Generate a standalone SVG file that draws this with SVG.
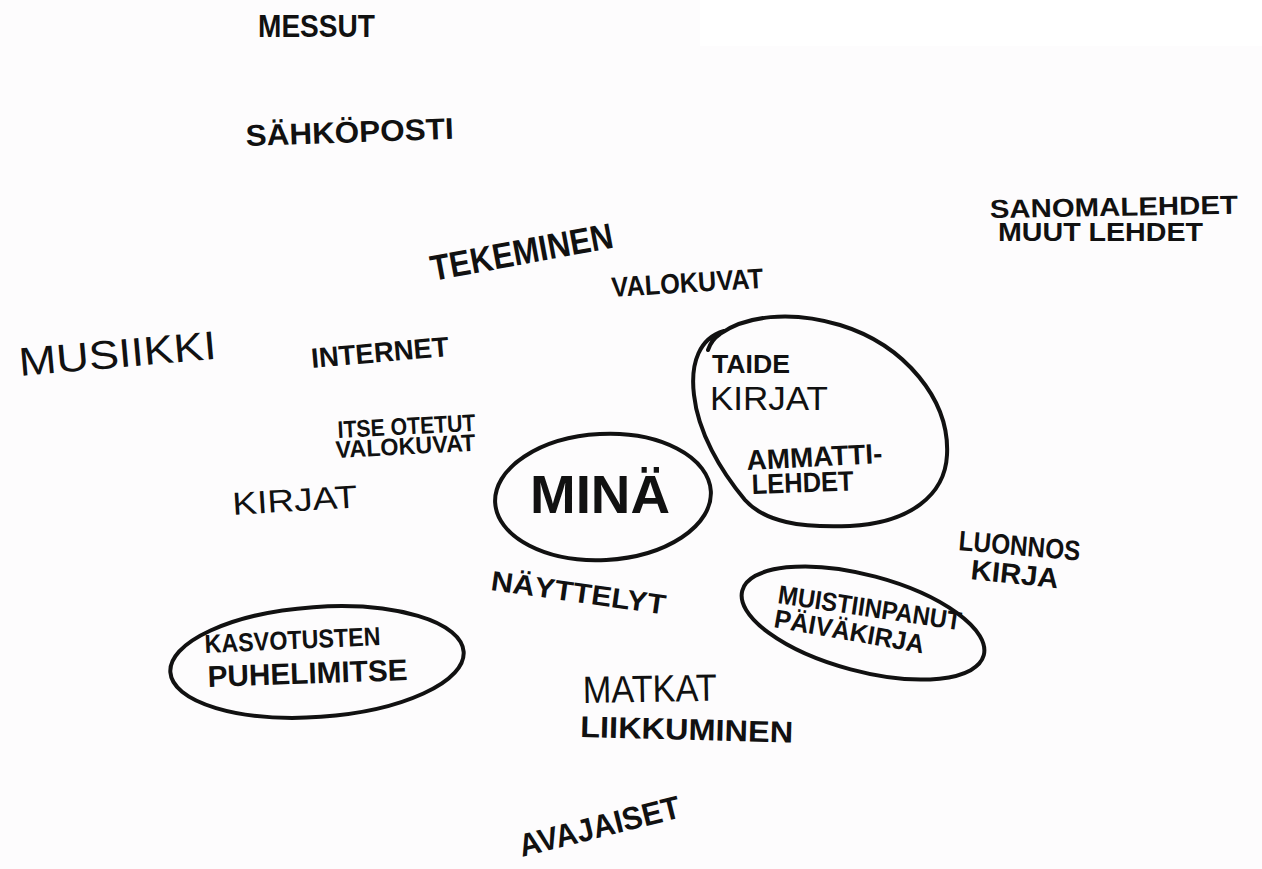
<svg xmlns="http://www.w3.org/2000/svg" width="1262" height="869" viewBox="0 0 1262 869">
<style>
text{font-family:"Liberation Sans","DejaVu Sans",sans-serif;font-weight:bold;fill:#111;}
.thin{font-weight:normal;}
.loop{fill:none;stroke:#111;stroke-width:4;stroke-linecap:round;stroke-linejoin:round;}
</style>
<rect x="0" y="0" width="1262" height="869" fill="#fdfcfd"/>
<rect x="700" y="0" width="562" height="46" fill="#ffffff"/>
<g id="connectors"/>
<g id="messut"><text x="258" y="37" font-size="32" textLength="117" lengthAdjust="spacingAndGlyphs">MESSUT</text></g>
<g id="sahkoposti"><text x="246" y="146" font-size="30" textLength="208" lengthAdjust="spacingAndGlyphs" transform="rotate(-2 246 146)">SÄHKÖPOSTI</text></g>
<g id="tekeminen"><text x="433" y="281" font-size="36" textLength="185" lengthAdjust="spacingAndGlyphs" transform="rotate(-10.5 433 281)">TEKEMINEN</text></g>
<g id="valokuvat"><text x="612" y="297" font-size="28" textLength="152" lengthAdjust="spacingAndGlyphs" transform="rotate(-3.5 612 297)">VALOKUVAT</text></g>
<g id="lehdet">
<text x="990" y="218" font-size="26" textLength="248" lengthAdjust="spacingAndGlyphs" transform="rotate(-1 990 218)">SANOMALEHDET</text>
<text x="998" y="241" font-size="26" textLength="205" lengthAdjust="spacingAndGlyphs">MUUT LEHDET</text>
</g>
<g id="musiikki"><text class="thin" x="20" y="376" font-size="40" textLength="198" lengthAdjust="spacingAndGlyphs" transform="rotate(-5 20 376)">MUSIIKKI</text></g>
<g id="internet"><text x="312" y="368" font-size="28" textLength="138" lengthAdjust="spacingAndGlyphs" transform="rotate(-5 312 368)">INTERNET</text></g>
<g id="itseotetut">
<text x="338" y="438" font-size="24" textLength="138" lengthAdjust="spacingAndGlyphs" transform="rotate(-3 338 438)">ITSE OTETUT</text>
<text x="336" y="458" font-size="24" textLength="140" lengthAdjust="spacingAndGlyphs" transform="rotate(-3 336 458)">VALOKUVAT</text>
</g>
<g id="kirjat"><text class="thin" x="233" y="515" font-size="32" textLength="125" lengthAdjust="spacingAndGlyphs" transform="rotate(-3.5 233 515)">KIRJAT</text></g>
<g id="mina">
<ellipse class="loop" cx="603" cy="497" rx="108" ry="63" transform="rotate(-3 603 497)"/>
<text x="530" y="513" font-size="54" textLength="140" lengthAdjust="spacingAndGlyphs">MINÄ</text>
</g>
<g id="nayttelyt"><text x="490" y="590" font-size="28" textLength="176" lengthAdjust="spacingAndGlyphs" transform="rotate(8 490 590)">NÄYTTELYT</text></g>
<g id="taide">
<path class="loop" d="M724,331 C700,338 690,362 694,395 C698,432 720,470 745,500 C765,522 800,528 850,526 C910,523 945,495 947,455 C950,400 905,345 840,325 C790,310 745,316 720,334 C714,338 710,344 708,350"/>
<text x="712" y="373" font-size="26" textLength="78" lengthAdjust="spacingAndGlyphs">TAIDE</text>
<text class="thin" x="710" y="410" font-size="34" textLength="118" lengthAdjust="spacingAndGlyphs">KIRJAT</text>
<text x="747" y="470" font-size="28" textLength="136" lengthAdjust="spacingAndGlyphs" transform="rotate(-3 747 470)">AMMATTI-</text>
<text x="752" y="494" font-size="28" textLength="102" lengthAdjust="spacingAndGlyphs" transform="rotate(-2 752 494)">LEHDET</text>
</g>
<g id="luonnos">
<text x="958" y="550" font-size="28" textLength="122" lengthAdjust="spacingAndGlyphs" transform="rotate(5 958 550)">LUONNOS</text>
<text x="970" y="579" font-size="28" textLength="88" lengthAdjust="spacingAndGlyphs" transform="rotate(6 970 579)">KIRJA</text>
</g>
<g id="muistiinpanut">
<ellipse class="loop" cx="863" cy="623" rx="125" ry="48" transform="rotate(15 863 623)"/>
<text x="777" y="603" font-size="26" textLength="185" lengthAdjust="spacingAndGlyphs" transform="rotate(8.5 777 603)">MUISTIINPANUT</text>
<text x="773" y="627" font-size="26" textLength="152" lengthAdjust="spacingAndGlyphs" transform="rotate(10 773 627)">PÄIVÄKIRJA</text>
</g>
<g id="kasvotusten">
<ellipse class="loop" cx="317" cy="662" rx="147" ry="55" transform="rotate(-4 317 662)"/>
<text x="205" y="653" font-size="26" textLength="176" lengthAdjust="spacingAndGlyphs" transform="rotate(-2.6 205 653)">KASVOTUSTEN</text>
<text x="208" y="687" font-size="30" textLength="200" lengthAdjust="spacingAndGlyphs" transform="rotate(-2 208 687)">PUHELIMITSE</text>
</g>
<g id="matkat">
<text class="thin" x="583" y="703" font-size="38" textLength="134" lengthAdjust="spacingAndGlyphs" transform="rotate(-1 583 703)">MATKAT</text>
<text x="580" y="737" font-size="30" textLength="213" lengthAdjust="spacingAndGlyphs" transform="rotate(1.5 580 737)">LIIKKUMINEN</text>
</g>
<g id="avajaiset"><text x="522" y="857" font-size="32" textLength="165" lengthAdjust="spacingAndGlyphs" transform="rotate(-14 522 857)">AVAJAISET</text></g>
</svg>
